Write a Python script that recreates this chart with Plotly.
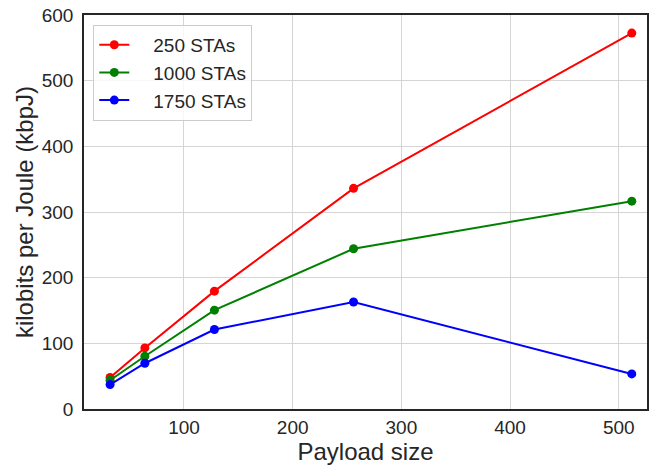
import plotly.graph_objects as go

payload = [32, 64, 128, 256, 512]
kbpj_250 = [47.9, 93.0, 179.5, 336, 572.5]
kbpj_1000 = [43.8, 80.4, 150.5, 244, 316.5]
kbpj_1750 = [37.2, 69.7, 121.1, 163, 53.4]

series = [
    ("250 STAs", kbpj_250, "#ff0000"),
    ("1000 STAs", kbpj_1000, "#008000"),
    ("1750 STAs", kbpj_1750, "#0000ff"),
]

# en spaces push each legend label a little further from its swatch
pad = "\u2002\u2002"

fig = go.Figure()
for name, vals, color in series:
    fig.add_trace(go.Scatter(
        x=payload, y=vals, name=pad + name, mode="lines+markers",
        line=dict(color=color, width=2),
        marker=dict(color=color, size=9),
    ))

font_family = "Liberation Sans, Arial, sans-serif"
fig.update_layout(
    width=649, height=468,
    margin=dict(l=84, r=0, t=15, b=59),
    plot_bgcolor="white", paper_bgcolor="white",
    font=dict(family=font_family, color="#262626", size=19),
    showlegend=True,
    legend=dict(
        x=0.0165, y=0.975, xanchor="left", yanchor="top",
        bordercolor="#cccccc", borderwidth=1, bgcolor="rgba(255,255,255,0.8)",
        font=dict(size=19, family=font_family, color="#262626"),
        tracegroupgap=0,
    ),
    xaxis=dict(
        range=[8, 526], tickvals=[100, 200, 300, 400, 500],
        showgrid=True, gridcolor="#d5d5d5", gridwidth=1,
        showline=True, linecolor="#262626", linewidth=1.5, mirror=True,
        zeroline=False, ticks="", tickfont=dict(size=19),
        title=dict(text="Payload size", font=dict(size=24), standoff=3),
    ),
    yaxis=dict(
        range=[0, 600], tickvals=[0, 100, 200, 300, 400, 500, 600],
        showgrid=True, gridcolor="#d5d5d5", gridwidth=1,
        showline=True, linecolor="#262626", linewidth=1.5, mirror=True,
        zeroline=False, ticks="", tickfont=dict(size=19), ticklabelstandoff=5,
        title=dict(text="kilobits per Joule (kbpJ)", font=dict(size=24), standoff=1),
    ),
)

fig.write_html("out.html")
